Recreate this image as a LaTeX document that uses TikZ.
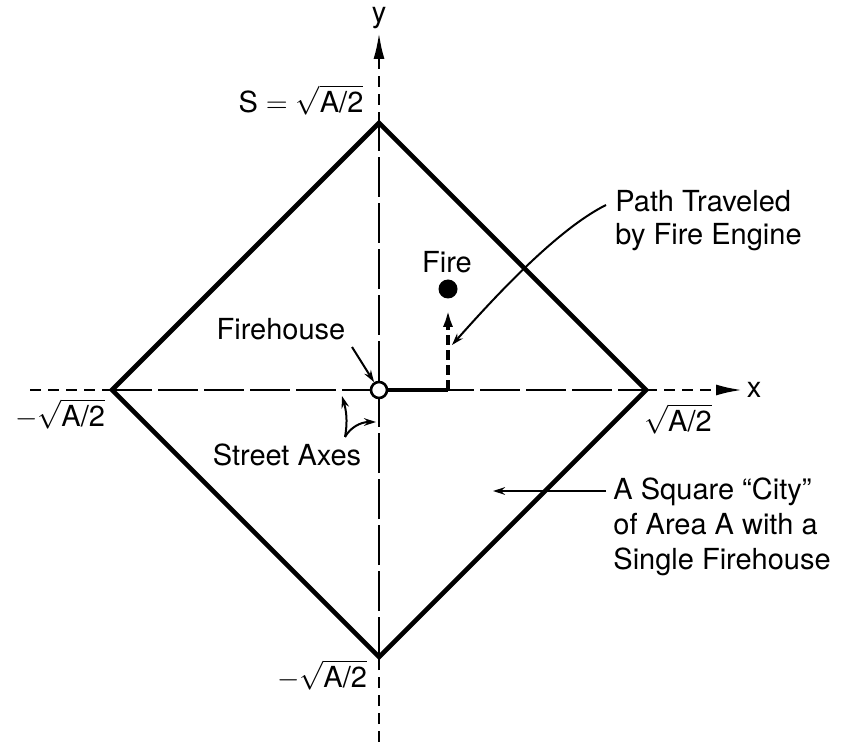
\documentclass[tikz,border=0pt]{standalone}
\usepackage{amsmath}
\usepackage{fontspec}
\setmainfont{TeX Gyre Heros}
\usetikzlibrary{arrows.meta}

\begin{document}
\begin{tikzpicture}[
x=0.5pt,y=-0.5pt,
every node/.style={
font=\fontsize{14.5}{16.5}\selectfont,
inner sep=0pt
},
city/.style={line width=2.3pt,line join=miter},
axisout/.style={line width=1.2pt,dash pattern=on 5.5pt off 3.5pt},
axisin/.style={line width=1.2pt,dash pattern=on 20pt off 3pt},
axistip/.style={-{Latex[length=13pt,width=5.5pt]}},
route/.style={line width=2.1pt},
leader/.style={-{Stealth[length=6pt,width=3.8pt]},line width=1pt}
]

\useasboundingbox (0,0) rectangle (850,742);

% corners of the city
\coordinate (O) at (379,390);
\coordinate (T) at (379,123);
\coordinate (B) at (379,657);
\coordinate (L) at (112,390);
\coordinate (R) at (646,390);

% ends of the street axes
\coordinate (x0) at (30,390);
\coordinate (x1) at (742,390);
\coordinate (y0) at (379,742);
\coordinate (y1) at (379,33);

\draw[axisout] (x0) -- (L);
\draw[axisin] (L) -- (R);
\draw[axisout,axistip] (R) -- (x1);
\draw[axisout] (y0) -- (B);
\draw[axisin] (B) -- (T);
\draw[axisout,axistip] (T) -- (y1);

\draw[city] (T) -- (R) -- (B) -- (L) -- cycle;

% route of the engine
\node[circle,fill,minimum size=9.5pt] (fire) at (448,289) {};
\coordinate (turn) at (448,390);
\draw[route] (O) -- (turn);
\draw[route,dash pattern=on 5pt off 2.5pt,-{Latex[length=9pt,width=5pt]},shorten >=5pt] (turn) -- (fire);
\node[circle,draw,fill=white,line width=1.3pt,minimum size=8pt] (house) at (O) {};

% labels
\node (ylbl) at (379,18) {y};
\node (xlbl) at (754,390) {x};
\node (top) at (301,100) {$\text{S} = \sqrt{\text{A/2}}$};
\node (lft) at (60,414) {$-\sqrt{\text{A/2}}$};
\node (rgt) at (678,419) {$\sqrt{\text{A/2}}$};
\node (bot) at (322,675) {$-\sqrt{\text{A/2}}$};
\node (housel) at (281,329) {Firehouse};
\node (axesl) at (287,455) {Street Axes};
\node (firel) at (447,262) {Fire};
\node[anchor=west,align=left] (pathl) at (615,221) {Path Traveled\\by Fire Engine};
\node[anchor=west,align=left,font=\fontsize{14.5}{17.5}\selectfont] (cityl) at (613,527) {A Square ``City''\\of Area A with a\\Single Firehouse};

% leaders
\coordinate (hs) at (352,347);
\draw[leader] (hs) -- (house);

\coordinate (sa) at (345,437);
\coordinate (sax) at (342,396);
\coordinate (say) at (376,422);
\draw[leader] (sa) .. controls (348,420) and (346,410) .. (sax);
\draw[leader] (sa) .. controls (350,428) and (360,422) .. (say);

\coordinate (ps) at (606,205);
\coordinate (pt) at (452,345);
\draw[leader] (ps) .. controls (556,230) and (492,300) .. (pt);

\coordinate (cs) at (606,491);
\coordinate (ct) at (493,491);
\draw[leader] (cs) -- (ct);

\end{tikzpicture}
\end{document}
